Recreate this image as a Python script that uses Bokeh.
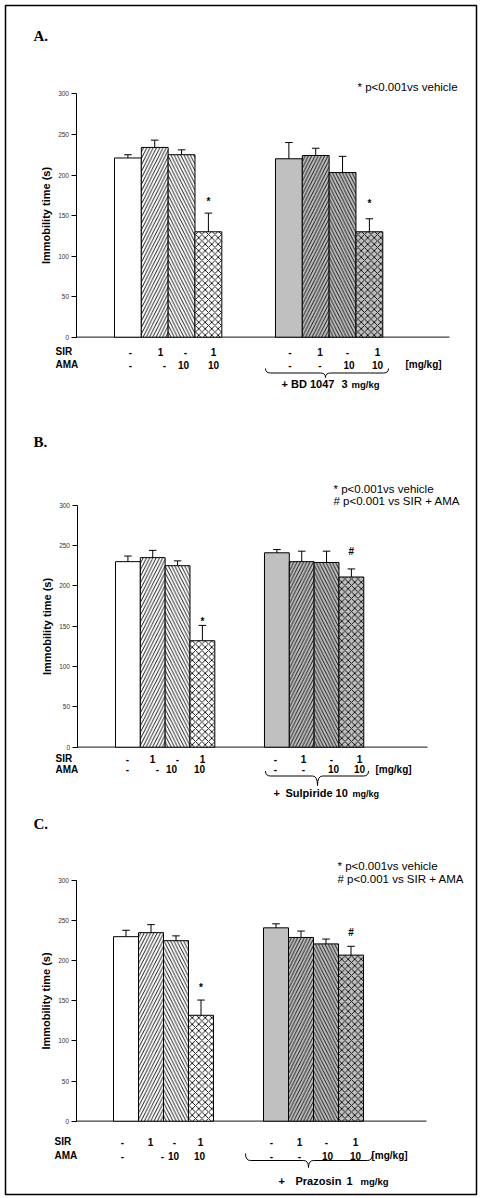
from bokeh.plotting import figure
from bokeh.models import Range1d, LinearAxis, FixedTicker
from bokeh.core.properties import value
from bokeh.embed import file_html
from bokeh.resources import INLINE

# ---------------- data ----------------
sir_doses = ["-", "1", "-", "1", "-", "1", "-", "1"]
ama_doses = ["-", "-", "10", "10", "-", "-", "10", "10"]
y_ticks = [0, 50, 100, 150, 200, 250, 300]

a_means = [221, 234, 225, 130, 220, 224, 203, 130]
a_sem = [4, 9, 6, 23, 20, 9, 20, 16]
a_marks = ["", "", "", "*", "", "", "", "*"]

b_means = [230, 235, 225, 132, 241, 230, 229, 211]
b_sem = [7, 9, 6, 19, 4, 13, 14, 10]
b_marks = ["", "", "", "*", "", "", "", "#"]

c_means = [230, 235, 225, 132, 241, 229, 221, 207]
c_sem = [8, 10, 6, 19, 5, 8, 6, 11]
c_marks = ["", "", "", "*", "", "", "", "#"]

bar_pos = [2, 3, 4, 5, 8, 9, 10, 11]

# ---------------- layout constants ----------------
W, H = 480, 1198
FL, FR, FT, FB = 5, 476, 5, 1194
SANS_NAME = "Liberation Sans"
SANS = value(SANS_NAME)
SERIF = value("Liberation Serif")

p = figure(width=W, height=H, output_backend="svg", toolbar_location=None,
           x_axis_type=None, y_axis_type=None,
           x_range=Range1d(FL, FR), y_range=Range1d(FB, FT),
           min_border_left=FL, min_border_right=W - FR,
           min_border_top=FT, min_border_bottom=H - FB)
p.outline_line_color = "black"
p.outline_line_width = 1.5
p.background_fill_color = "white"
p.border_fill_color = "white"

fills = ["white"] * 4 + ["#c0c0c0"] * 4
hatches = [" ", "/", "\\", "x"] * 2
hscale = [6.5, 6.5, 6.5, 6.5] * 2

panels = [
    dict(name="A", means=a_means, sem=a_sem, marks=a_marks, a=73.75, u=26.83,
         axis_px=75.5, end_px=449, zero=336.7, top=93.4, gaps=[0, 0, 0, 11.5, 0, 0, 0, 15.5]),
    dict(name="B", means=b_means, sem=b_sem, marks=b_marks, a=77.75, u=24.83,
         axis_px=76.5, end_px=427, zero=746.7, top=504.7, gaps=[0, 0, 0, 4, 0, 0, 0, 17]),
    dict(name="C", means=c_means, sem=c_sem, marks=c_marks, a=75.5, u=25.0,
         axis_px=75.5, end_px=426, zero=1120.7, top=880.0, gaps=[0, 0, 0, 13, 0, 0, 0, 14]),
]

xr, yr = {}, {}
for pn in panels:
    s = (pn["zero"] - pn["top"]) / 300.0
    pn["s"] = s
    xr["x" + pn["name"]] = Range1d(start=(FL - pn["a"]) / pn["u"], end=(FR - pn["a"]) / pn["u"])
    yr["y" + pn["name"]] = Range1d(start=(pn["zero"] - FB) / s, end=(pn["zero"] - FT) / s)
p.extra_x_ranges = xr
p.extra_y_ranges = yr

for pn in panels:
    xn, yn = "x" + pn["name"], "y" + pn["name"]
    u, a, s = pn["u"], pn["a"], pn["s"]
    axis_loc = (pn["axis_px"] - a) / u
    end_loc = (pn["end_px"] - a) / u
    ax = LinearAxis(x_range_name=xn, y_range_name=yn, fixed_location=axis_loc,
                    bounds=(0, 300), ticker=FixedTicker(ticks=y_ticks),
                    major_tick_out=5, major_tick_in=0, minor_tick_out=0, minor_tick_in=0,
                    major_label_text_font=SANS_NAME, major_label_text_font_size="6.5px",
                    major_label_text_color="#333", major_label_standoff=2,
                    axis_line_color="black", axis_line_width=1,
                    major_tick_line_color="black",
                    axis_label="Immobility time (s)", axis_label_text_font=SANS_NAME,
                    axis_label_text_font_size="11px", axis_label_text_font_style="bold",
                    axis_label_text_color="black", axis_label_standoff=4)
    p.add_layout(ax, "left")

    p.segment(x0=[axis_loc], y0=[0], x1=[end_loc], y1=[0], line_color="#444",
              line_width=1.2, x_range_name=xn, y_range_name=yn)
    p.vbar(x=bar_pos, width=1, top=pn["means"], bottom=0, fill_color=fills,
           line_color="black", line_width=1, hatch_pattern=hatches, hatch_color="black",
           hatch_weight=0.9, hatch_scale=hscale, x_range_name=xn, y_range_name=yn)
    tops = [m + e for m, e in zip(pn["means"], pn["sem"])]
    p.segment(x0=bar_pos, y0=pn["means"], x1=bar_pos, y1=tops, line_color="black",
              line_width=1, x_range_name=xn, y_range_name=yn)
    cw = 3.8 / u
    p.segment(x0=[c - cw for c in bar_pos], y0=tops, x1=[c + cw for c in bar_pos], y1=tops,
              line_color="black", line_width=1, x_range_name=xn, y_range_name=yn)
    mk_y = [t + g / s for t, g in zip(tops, pn["gaps"])]
    p.text(x=bar_pos, y=mk_y, text=pn["marks"], text_font=SANS, text_font_size="10px",
           text_font_style="bold", text_align="center", text_baseline="middle",
           text_color="black", x_range_name=xn, y_range_name=yn)

# ---------------- texts in canvas pixel coordinates ----------------
def txt(xs, ys, ts, size, style="bold", align="left", baseline="middle", font=SANS, color="black"):
    p.text(x=xs, y=ys, text=ts, text_font=font, text_font_size=size, text_font_style=style,
           text_align=align, text_baseline=baseline, text_color=color)

txt([33, 33, 33], [35, 441.5, 823], ["A.", "B.", "C."], "15px", font=SERIF, baseline="alphabetic")

txt([357, 333, 333, 337, 337], [86, 488, 500.5, 865, 878],
    ["* p<0.001vs vehicle", "* p<0.001vs vehicle", "# p<0.001 vs SIR + AMA",
     "* p<0.001vs vehicle", "# p<0.001 vs SIR + AMA"], "11.5px", style="normal")

rows = [
    dict(y_sir=351, y_ama=364, lx=55,
         sir_x=[130, 160, 185, 213, 289.5, 319.5, 347, 377],
         ama_x=[130, 164, 183, 213, 289.5, 319.5, 348.5, 377], unit=(405, 364)),
    dict(y_sir=758, y_ama=768.5, lx=55,
         sir_x=[127, 152, 177, 202, 275, 303, 331, 359],
         ama_x=[127, 157, 171, 199, 275, 303, 333, 359], unit=(375, 769)),
    dict(y_sir=1141, y_ama=1155, lx=54,
         sir_x=[122, 150, 174, 200, 271, 299, 326, 355],
         ama_x=[122, 162, 173, 199, 271, 299, 327, 355], unit=(371, 1155)),
]
for r in rows:
    txt([r["lx"], r["lx"]], [r["y_sir"], r["y_ama"]], ["SIR", "AMA"], "10px")
    txt(r["sir_x"], [r["y_sir"]] * 8, sir_doses, "10px", align="center")
    txt(r["ama_x"], [r["y_ama"]] * 8, ama_doses, "10px", align="center")
    txt([r["unit"][0]], [r["unit"][1]], ["[mg/kg]"], "10px")

braces = [(265, 388, 368, 372.5, 325, 377), (265, 368, 770.5, 775.5, 317, 785),
          (245, 372, 1153, 1160, 308, 1167)]
R = 5
for x0, x1, yt, ym, xc, yb in braces:
    p.quadratic(x0=[x0, xc - R, xc, x1 - R], y0=[yt, ym, yb, ym],
                x1=[x0 + R, xc, xc + R, x1], y1=[ym, yb, ym, yt],
                cx=[x0, xc, xc, x1], cy=[ym, ym, ym, ym], line_color="black", line_width=1)
    p.segment(x0=[x0 + R, xc + R], y0=[ym, ym], x1=[xc - R, x1 - R], y1=[ym, ym],
              line_color="black", line_width=1)

txt([281, 341], [383, 383], ["+ BD 1047", "3"], "11px")
txt([351], [383.5], ["mg/kg"], "9.5px")
txt([273, 285], [792.5, 792.5], ["+", "Sulpiride 10"], "11px")
txt([352], [793], ["mg/kg"], "9px")
txt([278, 295, 346], [1180, 1180, 1180], ["+", "Prazosin", "1"], "11px")
txt([360], [1180.5], ["mg/kg"], "9.5px")

open("out.html", "w").write(file_html(p, INLINE))
